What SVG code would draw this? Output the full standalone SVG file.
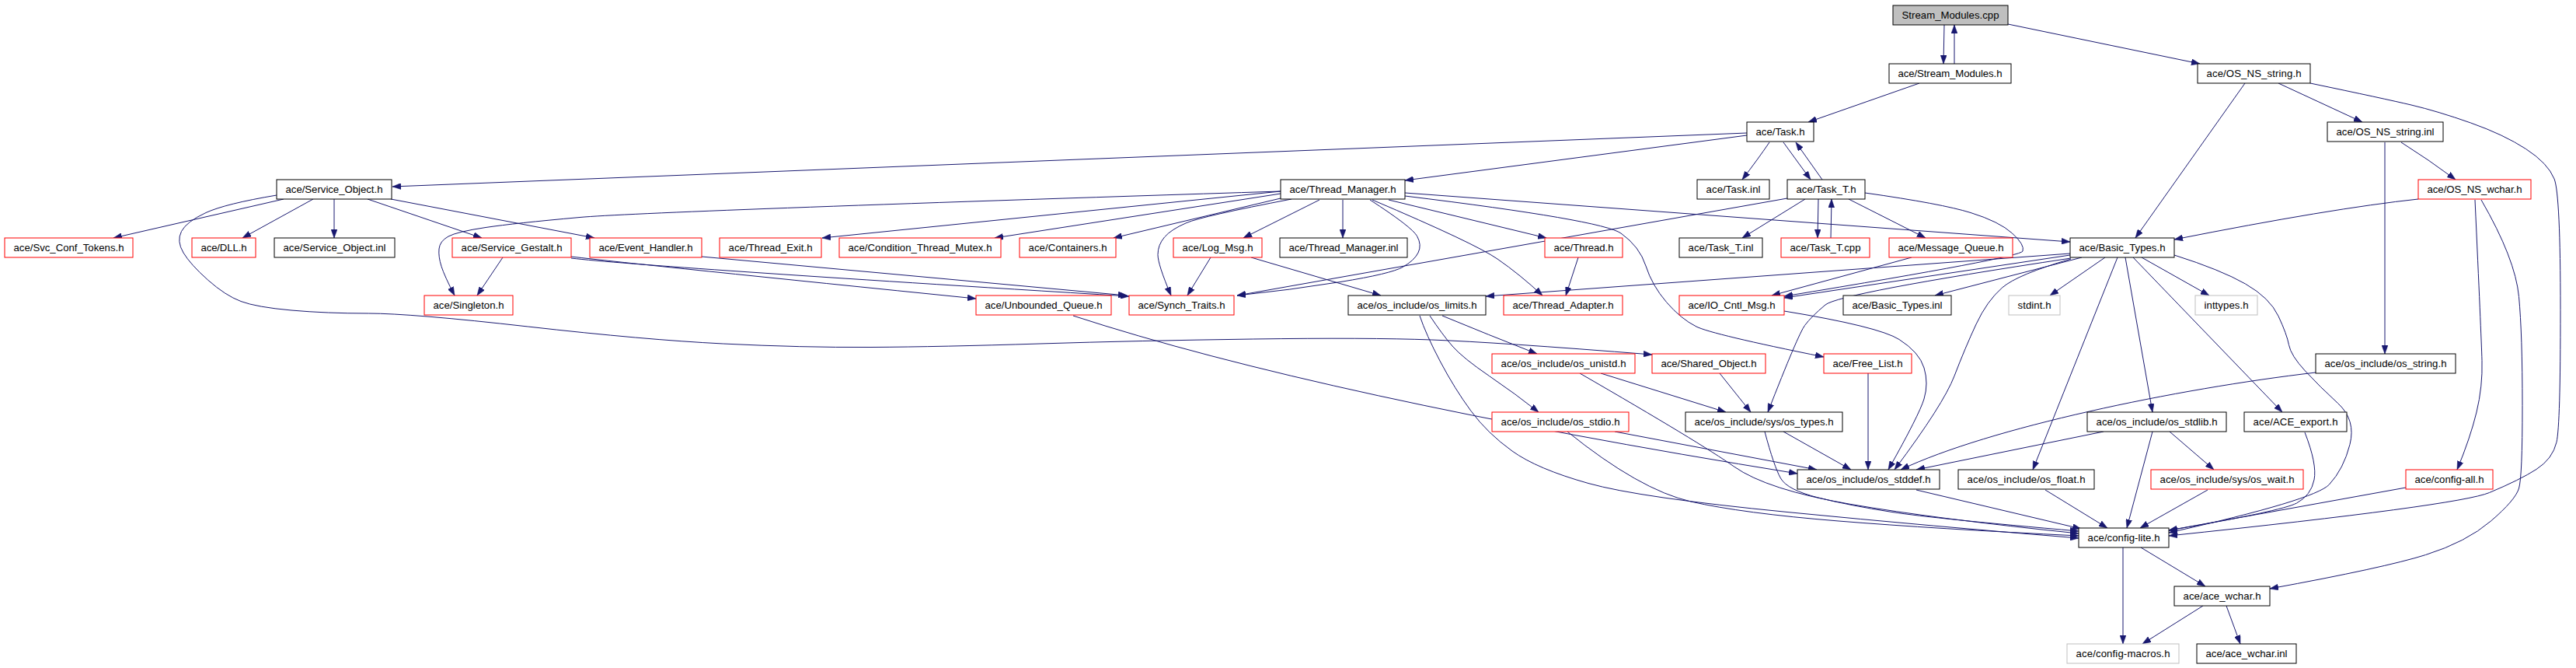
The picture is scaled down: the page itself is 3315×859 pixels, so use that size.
<svg xmlns="http://www.w3.org/2000/svg" width="3315" height="859" viewBox="0 0 3315 859">
<defs>
<style>
.e{fill:none;stroke:#191970;stroke-width:1;marker-end:url(#a)}
rect{fill:#fff;stroke-width:1}
.b rect{stroke:#000}
.r rect{stroke:#ff0000}
.g rect{stroke:#bfbfbf}
.root rect{fill:#bfbfbf;stroke:#000}
text{font-family:"Liberation Sans",Arial,sans-serif;font-size:13.2px;text-anchor:middle;fill:#000}
</style>
<marker id="a" markerWidth="11" markerHeight="8" refX="11" refY="4" orient="auto" markerUnits="userSpaceOnUse"><path d="M0,0 L11,4 L0,8 z" fill="#191970" stroke="#191970" stroke-width="0.5"/></marker>
</defs>
<rect x="0" y="0" width="3315" height="859" style="fill:#fff;stroke:none"/>
<g id="edges">
<path class="e" d="M2502,32 L2501,82"/>
<path class="e" d="M2515,82 L2515,32"/>
<path class="e" d="M2584,31 L2831,82"/>
<path class="e" d="M2470,107 L2327,157"/>
<path class="e" d="M2248,171 L505,240"/>
<path class="e" d="M2248,174 L1808,232"/>
<path class="e" d="M2277,183 Q2262,205 2242,231"/>
<path class="e" d="M2295,183 L2330,231"/>
<path class="e" d="M2345,231 L2311,183"/>
<path class="e" d="M2889,107 L2748,306"/>
<path class="e" d="M2932,107 L3040,157"/>
<path class="e" d="M2973,107 Q3069,127 3103,135 Q3137,143 3179.5,158 Q3222,173 3250.5,191.5 Q3279,210 3287,230 Q3295,250 3295,398.5 Q3295,547 3290,568.5 Q3285,590 3264,603.5 Q3243,617 3203.5,633.5 Q3164,650 2791,689"/>
<path class="e" d="M3090,183 Q3125,205 3160,231"/>
<path class="e" d="M3069,183 L3069,455"/>
<path class="e" d="M3112,256 Q3000,268 2798,308"/>
<path class="e" d="M3185,257 Q3193,430 3194,463.5 Q3195,497 3187,530 Q3179,563 3162,604"/>
<path class="e" d="M3193,257 Q3237,333 3241.5,381.5 Q3246,430 3246,521.5 Q3246,613 3241.5,628 Q3237,643 3205.5,670 Q3174,697 3121.5,713.5 Q3069,730 2921,757"/>
<path class="e" d="M365,256 L146,306"/>
<path class="e" d="M403,256 L312,306"/>
<path class="e" d="M430,256 L430,306"/>
<path class="e" d="M473,256 L620,306"/>
<path class="e" d="M503,256 L765,306"/>
<path class="e" d="M356,251 Q290,262 265,273.5 Q240,285 233.5,297.5 Q227,310 236,325 Q245,340 267.5,360 Q290,380 310,387.5 Q330,395 375,399 Q420,403 474.5,403 Q529,403 679.5,420 Q830,437 930.5,442 Q1031,447 1121,446.5 Q1211,446 1338,442 Q1465,438 1612.5,436 Q1760,434 1842.5,437 Q1925,440 2126,456"/>
<path class="e" d="M1648,246 Q830,272 746,279.5 Q662,287 625,292.5 Q588,298 577,304 Q566,310 565,320 Q564,330 568,342.5 Q572,355 585,380"/>
<path class="e" d="M647,331 L614,380"/>
<path class="e" d="M735,330 Q830,341 1256,384"/>
<path class="e" d="M735,332 Q830,343 1453,381"/>
<path class="e" d="M903,330 L1450,380"/>
<path class="e" d="M1648,246 L1058,306"/>
<path class="e" d="M1648,249 L1280,306"/>
<path class="e" d="M1648,255 L1433,306"/>
<path class="e" d="M1698,257 L1600,306"/>
<path class="e" d="M1728,257 L1728,306"/>
<path class="e" d="M1662,256 Q1547,278 1527,286.5 Q1507,295 1498.5,305 Q1490,315 1490,327.5 Q1490,340 1507,380"/>
<path class="e" d="M1763,257 Q1817,292 1823.5,303.5 Q1830,315 1825,325 Q1820,335 1805,343.5 Q1790,352 1725,362.5 Q1660,373 1592,380"/>
<path class="e" d="M1787,257 L1990,306"/>
<path class="e" d="M1766,257 Q1898,313 1927,333 Q1956,353 1985,380"/>
<path class="e" d="M2031,331 L2015,380"/>
<path class="e" d="M1808,248 L2664,311"/>
<path class="e" d="M1808,252 Q2062,283 2086,300 Q2110,317 2118,342 Q2126,367 2144.5,388.5 Q2163,410 2183,420 Q2203,430 2347,459"/>
<path class="e" d="M1610,331 L1777,380"/>
<path class="e" d="M1558,331 L1528,380"/>
<path class="e" d="M2323,256 L2242,306"/>
<path class="e" d="M2340,256 L2339,306"/>
<path class="e" d="M2356,306 L2357,256"/>
<path class="e" d="M2379,256 L2478,306"/>
<path class="e" d="M2300,255 L1592,380"/>
<path class="e" d="M2400,248 Q2499,262 2536,273.5 Q2573,285 2589.5,300 Q2606,315 2603,323 Q2600,331 2296,381"/>
<path class="e" d="M2664,326 L1912,381"/>
<path class="e" d="M2664,328 L2296,383"/>
<path class="e" d="M2460,331 L2280,380"/>
<path class="e" d="M2679,331 L2490,380"/>
<path class="e" d="M2709,331 L2638,380"/>
<path class="e" d="M2756,331 L2843,380"/>
<path class="e" d="M2665,332 Q2367,377 2349,392 Q2331,407 2322.5,418.5 Q2314,430 2275,530"/>
<path class="e" d="M2665,333 Q2596,353 2576.5,370 Q2557,387 2543,417 Q2529,447 2515,483.5 Q2501,520 2438,604"/>
<path class="e" d="M2725,331 L2616,604"/>
<path class="e" d="M2735,331 L2770,530"/>
<path class="e" d="M2745,331 L2937,530"/>
<path class="e" d="M2798,328 Q2858,347 2889.5,365 Q2921,383 2932,406.5 Q2943,430 2945.5,443.5 Q2948,457 2966.5,477 Q2985,497 3008.5,518.5 Q3032,540 3024,571.5 Q3016,603 2997.5,623 Q2979,643 2791,685"/>
<path class="e" d="M2966,556 Q2982,597 2978,617 Q2974,637 2955.5,647 Q2937,657 2791,682"/>
<path class="e" d="M2060,480 L2221,530"/>
<path class="e" d="M2033,480 Q2189,570 2231.5,600 Q2274,630 2382,648.5 Q2490,667 2675,686"/>
<path class="e" d="M2213,480 L2253,530"/>
<path class="e" d="M1856,406 Q1914,430 1978,455"/>
<path class="e" d="M1840,406 Q1856,430 1869,445 Q1882,460 1916.5,483.5 Q1951,507 1980,530"/>
<path class="e" d="M1827,406 Q1835,430 1853.5,465 Q1872,500 1893,528.5 Q1914,557 1946,580 Q1978,603 2044,621.5 Q2110,640 2300,658.5 Q2490,677 2675,692"/>
<path class="e" d="M2078,555 L2338,604"/>
<path class="e" d="M2017,555 Q2110,630 2176,645 Q2242,660 2366,670 Q2490,680 2675,689"/>
<path class="e" d="M2295,555 L2382,604"/>
<path class="e" d="M2271,555 Q2283,600 2291.5,615 Q2300,630 2340,640 Q2380,650 2435,658.5 Q2490,667 2675,683"/>
<path class="e" d="M2404,480 L2404,604"/>
<path class="e" d="M2296,400 Q2418,420 2444,436.5 Q2470,453 2476,473 Q2482,493 2476,513 Q2470,533 2430,604"/>
<path class="e" d="M1381,406 Q1700,510 2313,609"/>
<path class="e" d="M2980,479 C2800,500 2560,550 2446,604"/>
<path class="e" d="M2707,555 L2466,604"/>
<path class="e" d="M2770,555 L2737,679"/>
<path class="e" d="M2792,555 L2849,604"/>
<path class="e" d="M2841,630 L2754,679"/>
<path class="e" d="M2632,630 L2712,679"/>
<path class="e" d="M2466,630 L2678,680"/>
<path class="e" d="M3096,627 L2791,682"/>
<path class="e" d="M2732,704 L2732,828"/>
<path class="e" d="M2755,704 L2838,754"/>
<path class="e" d="M2835,779 L2757,828"/>
<path class="e" d="M2865,779 L2883,828"/>
</g>
<g id="n_cpp" class="root"><rect x="2436" y="7" width="148" height="25"/><text x="2510" y="24" textLength="125">Stream_Modules.cpp</text></g>
<g id="n_smh" class="b"><rect x="2431" y="82" width="157" height="25"/><text x="2509.5" y="99" textLength="134">ace/Stream_Modules.h</text></g>
<g id="n_nsstr" class="b"><rect x="2828" y="82" width="145" height="25"/><text x="2900.5" y="99" textLength="122">ace/OS_NS_string.h</text></g>
<g id="n_task" class="b"><rect x="2248" y="157" width="86" height="25"/><text x="2291" y="174" textLength="63">ace/Task.h</text></g>
<g id="n_nsinl" class="b"><rect x="2995" y="157" width="149" height="25"/><text x="3069.5" y="174" textLength="126">ace/OS_NS_string.inl</text></g>
<g id="n_so" class="b"><rect x="356" y="231" width="148" height="25"/><text x="430" y="248" textLength="125">ace/Service_Object.h</text></g>
<g id="n_tm" class="b"><rect x="1648" y="231" width="160" height="25"/><text x="1728" y="248" textLength="137">ace/Thread_Manager.h</text></g>
<g id="n_taskinl" class="b"><rect x="2184" y="231" width="93" height="25"/><text x="2230.5" y="248" textLength="70">ace/Task.inl</text></g>
<g id="n_taskt" class="b"><rect x="2300" y="231" width="100" height="25"/><text x="2350" y="248" textLength="77">ace/Task_T.h</text></g>
<g id="n_wchar" class="r"><rect x="3112" y="231" width="145" height="25"/><text x="3184.5" y="248" textLength="122">ace/OS_NS_wchar.h</text></g>
<g id="n_svc" class="r"><rect x="6" y="306" width="165" height="25"/><text x="88.5" y="323" textLength="142">ace/Svc_Conf_Tokens.h</text></g>
<g id="n_dll" class="r"><rect x="247" y="306" width="82" height="25"/><text x="288" y="323" textLength="59">ace/DLL.h</text></g>
<g id="n_soinl" class="b"><rect x="353" y="306" width="155" height="25"/><text x="430.5" y="323" textLength="132">ace/Service_Object.inl</text></g>
<g id="n_sg" class="r"><rect x="582" y="306" width="153" height="25"/><text x="658.5" y="323" textLength="130">ace/Service_Gestalt.h</text></g>
<g id="n_eh" class="r"><rect x="759" y="306" width="144" height="25"/><text x="831" y="323" textLength="121">ace/Event_Handler.h</text></g>
<g id="n_te" class="r"><rect x="926" y="306" width="131" height="25"/><text x="991.5" y="323" textLength="108">ace/Thread_Exit.h</text></g>
<g id="n_ctm" class="r"><rect x="1080" y="306" width="208" height="25"/><text x="1184" y="323" textLength="185">ace/Condition_Thread_Mutex.h</text></g>
<g id="n_cont" class="r"><rect x="1312" y="306" width="124" height="25"/><text x="1374" y="323" textLength="101">ace/Containers.h</text></g>
<g id="n_log" class="r"><rect x="1510" y="306" width="114" height="25"/><text x="1567" y="323" textLength="91">ace/Log_Msg.h</text></g>
<g id="n_tminl" class="b"><rect x="1647" y="306" width="164" height="25"/><text x="1729" y="323" textLength="141">ace/Thread_Manager.inl</text></g>
<g id="n_thr" class="r"><rect x="1988" y="306" width="100" height="25"/><text x="2038" y="323" textLength="77">ace/Thread.h</text></g>
<g id="n_ttinl" class="b"><rect x="2161" y="306" width="107" height="25"/><text x="2214.5" y="323" textLength="84">ace/Task_T.inl</text></g>
<g id="n_ttcpp" class="r"><rect x="2292" y="306" width="114" height="25"/><text x="2349" y="323" textLength="91">ace/Task_T.cpp</text></g>
<g id="n_mq" class="r"><rect x="2431" y="306" width="159" height="25"/><text x="2510.5" y="323" textLength="136">ace/Message_Queue.h</text></g>
<g id="n_bt" class="b"><rect x="2664" y="306" width="134" height="25"/><text x="2731" y="323" textLength="111">ace/Basic_Types.h</text></g>
<g id="n_sing" class="r"><rect x="546" y="380" width="114" height="25"/><text x="603" y="397" textLength="91">ace/Singleton.h</text></g>
<g id="n_uq" class="r"><rect x="1256" y="380" width="174" height="25"/><text x="1343" y="397" textLength="151">ace/Unbounded_Queue.h</text></g>
<g id="n_st" class="r"><rect x="1453" y="380" width="135" height="25"/><text x="1520.5" y="397" textLength="112">ace/Synch_Traits.h</text></g>
<g id="n_lim" class="b"><rect x="1735" y="380" width="177" height="25"/><text x="1823.5" y="397" textLength="154">ace/os_include/os_limits.h</text></g>
<g id="n_ta" class="r"><rect x="1935" y="380" width="153" height="25"/><text x="2011.5" y="397" textLength="130">ace/Thread_Adapter.h</text></g>
<g id="n_io" class="r"><rect x="2161" y="380" width="135" height="25"/><text x="2228.5" y="397" textLength="112">ace/IO_Cntl_Msg.h</text></g>
<g id="n_btinl" class="b"><rect x="2372" y="380" width="139" height="25"/><text x="2441.5" y="397" textLength="116">ace/Basic_Types.inl</text></g>
<g id="n_stdint" class="g"><rect x="2585" y="380" width="66" height="25"/><text x="2618" y="397" textLength="43">stdint.h</text></g>
<g id="n_inttypes" class="g"><rect x="2825" y="380" width="80" height="25"/><text x="2865" y="397" textLength="57">inttypes.h</text></g>
<g id="n_unistd" class="r"><rect x="1920" y="455" width="184" height="25"/><text x="2012" y="472" textLength="161">ace/os_include/os_unistd.h</text></g>
<g id="n_shobj" class="r"><rect x="2126" y="455" width="146" height="25"/><text x="2199" y="472" textLength="123">ace/Shared_Object.h</text></g>
<g id="n_fl" class="r"><rect x="2347" y="455" width="113" height="25"/><text x="2403.5" y="472" textLength="90">ace/Free_List.h</text></g>
<g id="n_osstr" class="b"><rect x="2980" y="455" width="180" height="25"/><text x="3070" y="472" textLength="157">ace/os_include/os_string.h</text></g>
<g id="n_stdio" class="r"><rect x="1920" y="530" width="176" height="25"/><text x="2008" y="547" textLength="153">ace/os_include/os_stdio.h</text></g>
<g id="n_types" class="b"><rect x="2169" y="530" width="202" height="25"/><text x="2270" y="547" textLength="179">ace/os_include/sys/os_types.h</text></g>
<g id="n_stdlib" class="b"><rect x="2686" y="530" width="179" height="25"/><text x="2775.5" y="547" textLength="156">ace/os_include/os_stdlib.h</text></g>
<g id="n_export" class="b"><rect x="2888" y="530" width="132" height="25"/><text x="2954" y="547" textLength="109">ace/ACE_export.h</text></g>
<g id="n_stddef" class="b"><rect x="2313" y="604" width="183" height="25"/><text x="2404.5" y="621" textLength="160">ace/os_include/os_stddef.h</text></g>
<g id="n_float" class="b"><rect x="2520" y="604" width="175" height="25"/><text x="2607.5" y="621" textLength="152">ace/os_include/os_float.h</text></g>
<g id="n_wait" class="r"><rect x="2768" y="604" width="196" height="25"/><text x="2866" y="621" textLength="173">ace/os_include/sys/os_wait.h</text></g>
<g id="n_cfgall" class="r"><rect x="3096" y="604" width="112" height="25"/><text x="3152" y="621" textLength="89">ace/config-all.h</text></g>
<g id="n_lite" class="b"><rect x="2675" y="679" width="116" height="25"/><text x="2733" y="696" textLength="93">ace/config-lite.h</text></g>
<g id="n_acew" class="b"><rect x="2798" y="754" width="123" height="25"/><text x="2859.5" y="771" textLength="100">ace/ace_wchar.h</text></g>
<g id="n_macros" class="g"><rect x="2660" y="828" width="144" height="25"/><text x="2732" y="845" textLength="121">ace/config-macros.h</text></g>
<g id="n_acewinl" class="b"><rect x="2827" y="828" width="128" height="25"/><text x="2891" y="845" textLength="105">ace/ace_wchar.inl</text></g>
</svg>
